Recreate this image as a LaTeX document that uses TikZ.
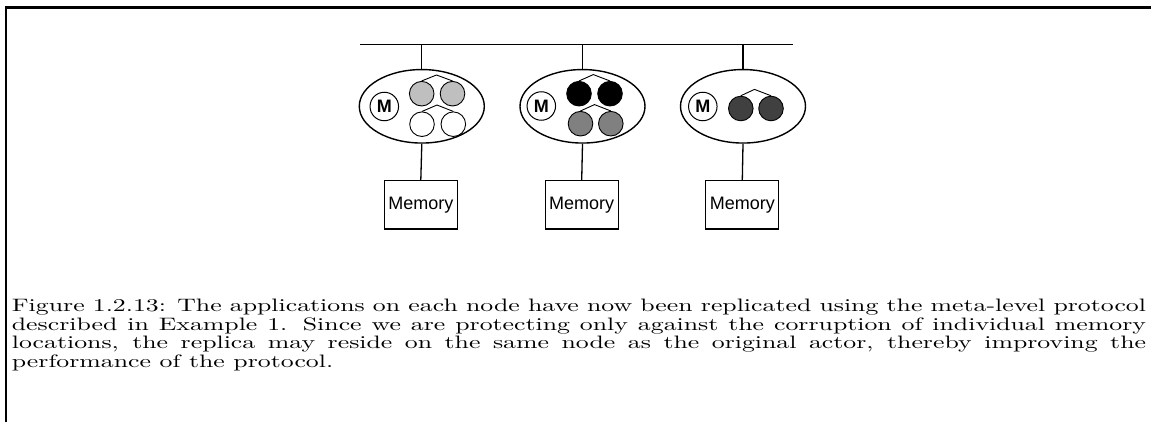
\documentclass[tikz,border=0pt]{standalone}
\usepackage{fontspec}
\setsansfont{Liberation Sans}
\usetikzlibrary{shapes.geometric}
\newlength\capw
\setlength\capw{439.6pt}
\newcommand\capjust[1]{\scalebox{2.58}[1.8]{\makebox[\capw][s]{#1}}}
\newcommand\caplast[1]{\scalebox{2.58}[1.8]{#1}}
\tikzset{
  wire/.style={line width=1.3pt},
  frameline/.style={line width=2.5pt},
  host/.style={ellipse, draw, line width=1.4pt, minimum width=125pt, minimum height=73.5pt, inner sep=0pt},
  meta/.style={circle, draw, line width=1pt, minimum size=28.5pt, inner sep=0pt, font=\sffamily\bfseries\fontsize{18}{18}\selectfont},
  actor/.style={circle, draw, line width=0.9pt, minimum size=24.6pt, inner sep=0pt},
  mem/.style={draw, line width=1.3pt, minimum width=73pt, minimum height=48.3pt, inner sep=0pt, font=\sffamily\fontsize{18}{18}\selectfont},
  link/.style={line width=0.9pt, line join=miter},
  capline/.style={anchor=base west, inner sep=0pt, font=\fontsize{10}{12}\selectfont},
}
\colorlet{lightfill}{black!25}
\colorlet{midfill}{black!50}
\colorlet{darkfill}{black!75}
\begin{document}
\begin{tikzpicture}[x=1pt, y=-1pt]
\useasboundingbox (0,0) rectangle (1151,422);
% frame
\draw[frameline] (6,430) -- (6,7.3) -- (1160,7.3);
% bus
\coordinate (busL) at (360,44.7);
\coordinate (busR) at (792.5,44.7);
\draw[wire] (busL) -- (busR);
\coordinate (t1) at (421.8,44.7);
\coordinate (t2) at (582.5,44.7);
\coordinate (t3) at (743,44.7);
% hosts
\node[host] (h1) at (421.8,106.3) {};
\node[host] (h2) at (582.5,106.3) {};
\node[host] (h3) at (743,106.3) {};
\draw[wire] (t1) -- (h1.north);
\draw[wire] (t2) -- (h2.north);
\draw[wire] (t3) -- (h3.north);
% meta circles
\node[meta] (m1) at (384.3,106.5) {M};
\node[meta] (m2) at (541.3,106) {M};
\node[meta] (m3) at (702.8,106.5) {M};
% host 1 actors
\node[actor, fill=lightfill] (a11) at (421.7,93.7) {};
\node[actor, fill=lightfill] (a12) at (452.5,93.7) {};
\node[actor, fill=white] (a13) at (422,124.2) {};
\node[actor, fill=white] (a14) at (453.3,124.2) {};
\coordinate (p11) at (436.5,75);
\coordinate (p12) at (437,105);
\draw[link] (a11.north) -- (p11) -- (a12.north);
\draw[link] (a13.north) -- (p12) -- (a14.north);
% host 2 actors
\node[actor, fill=black] (a21) at (579,93.7) {};
\node[actor, fill=black] (a22) at (610,93.7) {};
\node[actor, fill=midfill] (a23) at (580.5,123.7) {};
\node[actor, fill=midfill] (a24) at (610.8,123.7) {};
\coordinate (p21) at (593.3,74.6);
\coordinate (p22) at (594.5,104.6);
\draw[link] (a21.north) -- (p21) -- (a22.north);
\draw[link] (a23.north) -- (p22) -- (a24.north);
% host 3 actors
\node[actor, fill=darkfill] (a31) at (740.8,108.5) {};
\node[actor, fill=darkfill] (a32) at (771,108.5) {};
\coordinate (p31) at (754.5,89.4);
\draw[link] (a31.north) -- (p31) -- (a32.north);
% memories
\node[mem] (r1) at (420.8,204.9) {Memory};
\node[mem] (r2) at (581.7,204.9) {Memory};
\node[mem] (r3) at (742.3,204.9) {Memory};
\draw[wire] (h1.south) -- (r1.north);
\draw[wire] (h2.south) -- (r2.north);
\draw[wire] (h3.south) -- (r3.north);
% caption
\node[capline] (c1) at (11.7,311.7) {\capjust{Figure 1.2.13: The applications on each node have now been replicated using the meta-level protocol}};
\node[capline] (c2) at (11.7,330) {\capjust{described in Example 1. Since we are protecting only against the corruption of individual memory}};
\node[capline] (c3) at (11.7,348.5) {\capjust{locations, the replica may reside on the same node as the original actor, thereby improving the}};
\node[capline] (c4) at (11.7,367) {\caplast{performance of the protocol.}};
\end{tikzpicture}
\end{document}
